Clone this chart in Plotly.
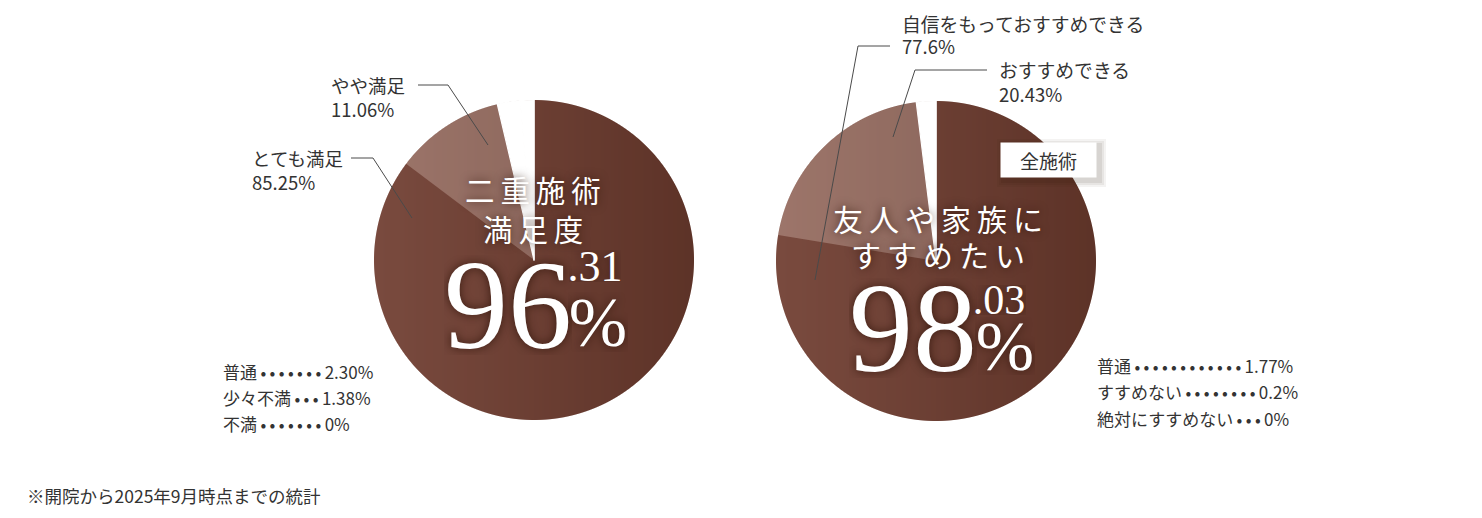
import base64
import struct
import zlib

import plotly.graph_objects as go

W, H = 1482, 518
OFF = 8  # page body margin of the browser

# ---------------- data ----------------
sat_labels = ["とても満足", "やや満足", "普通", "少々不満", "不満"]
sat_values = [85.25, 11.06, 2.30, 1.38, 0.0]
sat_total_text = ["96", ".31"]

rec_labels = ["自信をもっておすすめできる", "おすすめできる", "普通", "すすめない", "絶対にすすめない"]
rec_values = [77.6, 20.43, 1.77, 0.2, 0.0]
rec_total_text = ["98", ".03"]

footnote = "※開院から2025年9月時点までの統計"

# ---------------- styling ----------------
DARK = "rgba(107,63,52,0.25)"
LIGHT = "rgba(255,242,236,0.24)"
GAP = "#ffffff"
TXT = "#333333"
SANS = "Noto Sans CJK JP"
SERIF = "Liberation Serif"
SHADOW = "0px 0px 10px rgba(40,15,5,0.75)"
GRAD_L = (127, 79, 67)
GRAD_R = (89, 47, 36)
R = 160


def px(x):
    return (x - OFF) / W


def py(y):
    return 1 - (y - OFF) / H


def dom(cx, cy, r):
    return dict(x=[px(cx - r), px(cx + r)], y=[py(cy + r), py(cy - r)])


def gradient_disc_png(size, c0, c1):
    """Horizontal gradient disc (transparent outside) used as pie shading."""
    rows = []
    rad = size / 2
    for j in range(size):
        row = bytearray([0])
        for i in range(size):
            t = i / (size - 1)
            d = ((i + 0.5 - rad) ** 2 + (j + 0.5 - rad) ** 2) ** 0.5
            a = max(0.0, min(1.0, rad - d + 0.5))
            row += bytes([int(c0[0] + (c1[0] - c0[0]) * t),
                          int(c0[1] + (c1[1] - c0[1]) * t),
                          int(c0[2] + (c1[2] - c0[2]) * t),
                          int(255 * a)])
        rows.append(bytes(row))
    raw = b"".join(rows)

    def chunk(tag, data):
        c = struct.pack(">I", len(data)) + tag + data
        return c + struct.pack(">I", zlib.crc32(tag + data) & 0xFFFFFFFF)

    png = b"\x89PNG\r\n\x1a\n" + chunk(b"IHDR", struct.pack(">IIBBBBB", size, size, 8, 6, 0, 0, 0)) \
        + chunk(b"IDAT", zlib.compress(raw, 9)) + chunk(b"IEND", b"")
    return "data:image/png;base64," + base64.b64encode(png).decode()


GRAD = gradient_disc_png(2 * R, GRAD_L, GRAD_R)

fig = go.Figure()

images = []
for cx, cy, labels, values in [(534, 260, sat_labels, sat_values), (936, 261, rec_labels, rec_values)]:
    d = dom(cx, cy, R)
    images.append(dict(source=GRAD, xref="paper", yref="paper", x=d["x"][0], y=d["y"][1],
                       sizex=d["x"][1] - d["x"][0], sizey=d["y"][1] - d["y"][0],
                       xanchor="left", yanchor="top", sizing="stretch", layer="below"))
    fig.add_trace(go.Pie(
        labels=labels, values=values, sort=False, direction="clockwise", rotation=0,
        marker=dict(colors=[DARK, LIGHT, GAP, GAP, GAP],
                    line=dict(width=[0, 0, 1.2, 1.2, 1.2], color=GAP)),
        textinfo="none", hoverinfo="skip", showlegend=False, domain=d,
    ))

ann = []
shapes = []


def text(x, y, s, size, color=TXT, family=SANS, xanchor="left", yanchor="middle", shadow=None, **kw):
    f = dict(size=size, color=color, family=family)
    if shadow:
        f["shadow"] = shadow
    a = dict(x=px(x), y=py(y), xref="paper", yref="paper", text=s, showarrow=False,
             xanchor=xanchor, yanchor=yanchor, font=f)
    if xanchor == "left":
        a["xshift"] = -3
    a.update(kw)
    ann.append(a)


def leader(points):
    path = "M " + " L ".join(f"{px(x)},{py(y)}" for x, y in points)
    shapes.append(dict(type="path", path=path, xref="paper", yref="paper",
                       line=dict(color="#4a4a4a", width=1), layer="above"))


def spaced(s):
    return "\u2009".join(s)


def dots(n):
    return "\u2009" + "\u2009".join(["•"] * n) + "\u2009"


# --- left pie labels ---
text(332, 85, sat_labels[1], 18.5)
text(332, 109, f"{sat_values[1]:.2f}%", 18.5)
leader([(418, 85), (448, 85), (488, 145)])
text(253, 158, sat_labels[0], 18.5)
text(253, 182, f"{sat_values[0]:.2f}%", 18.5)
leader([(351, 158), (373, 158), (412, 218)])

# --- right pie labels ---
text(903, OFF, rec_labels[0], 18.8, yanchor="top")
text(903, 46, f"{rec_values[0]:.1f}%", 18.5)
leader([(890, 46), (858, 46), (815, 280)])
text(1000, 70, rec_labels[1], 18.8)
text(1000, 94, f"{rec_values[1]:.2f}%", 18.5)
leader([(987, 70), (915, 70), (893, 137)])

# --- centre texts ---
text(533, 189, spaced("二重施術"), 29.5, color="white", xanchor="center", shadow=SHADOW)
text(533, 228, spaced("満足度"), 29.5, color="white", xanchor="center", shadow=SHADOW)
text(508, 305, sat_total_text[0], 128, color="white", family=SERIF, xanchor="center",
     shadow=SHADOW, height=100, width=128)
text(595, 266, sat_total_text[1], 44, color="white", family=SERIF, xanchor="center",
     shadow=SHADOW, height=32, width=52)
text(598, 322, "%", 70, color="white", family=SERIF, xanchor="center", shadow=SHADOW,
     height=60, width=60)

text(938, 218, spaced("友人や家族に"), 30, color="white", xanchor="center", shadow=SHADOW)
text(938, 254, spaced("すすめたい"), 30, color="white", xanchor="center", shadow=SHADOW)
text(913, 328, rec_total_text[0], 128, color="white", family=SERIF, xanchor="center",
     shadow=SHADOW, height=100, width=128)
text(999, 300, rec_total_text[1], 42, color="white", family=SERIF, xanchor="center",
     shadow=SHADOW, height=30, width=54)
text(1005, 346, "%", 70, color="white", family=SERIF, xanchor="center", shadow=SHADOW,
     height=58, width=60)

# "全施術" tag with soft shadow
for i, a in enumerate([0.05, 0.06, 0.08]):
    d = 6 - 2 * i
    shapes.append(dict(type="rect", xref="paper", yref="paper", layer="above",
                       x0=px(1000 - d + 3), x1=px(1097 + d + 3), y0=py(178 + d + 3), y1=py(142 - d + 3),
                       fillcolor=f"rgba(40,15,5,{a})", line=dict(width=0)))
ann.append(dict(x=px(1048.5), y=py(160), xref="paper", yref="paper", text="全施術", showarrow=False,
                xanchor="center", yanchor="middle", width=93, height=32, bgcolor="white",
                font=dict(size=19, color=TXT, family=SANS)))

# --- small lists ---
text(224, 371, f"{sat_labels[2]}{dots(7)}{sat_values[2]:.2f}%", 17)
text(224, 397, f"{sat_labels[3]}{dots(3)}{sat_values[3]:.2f}%", 17)
text(224, 423, f"{sat_labels[4]}{dots(7)}{sat_values[4]:g}%", 17)

text(1098, 365, f"{rec_labels[2]}{dots(12)}{rec_values[2]:.2f}%", 17)
text(1098, 391, f"{rec_labels[3]}{dots(8)}{rec_values[3]:g}%", 17)
text(1098, 418, f"{rec_labels[4]}{dots(3)}{rec_values[4]:g}%", 17)

# footnote
text(28, 495, footnote, 17.5)

fig.update_layout(
    width=W, height=H, margin=dict(l=0, r=0, t=0, b=0),
    paper_bgcolor="white", plot_bgcolor="white",
    annotations=ann, shapes=shapes, images=images, showlegend=False,
)

fig.write_html("out.html")
